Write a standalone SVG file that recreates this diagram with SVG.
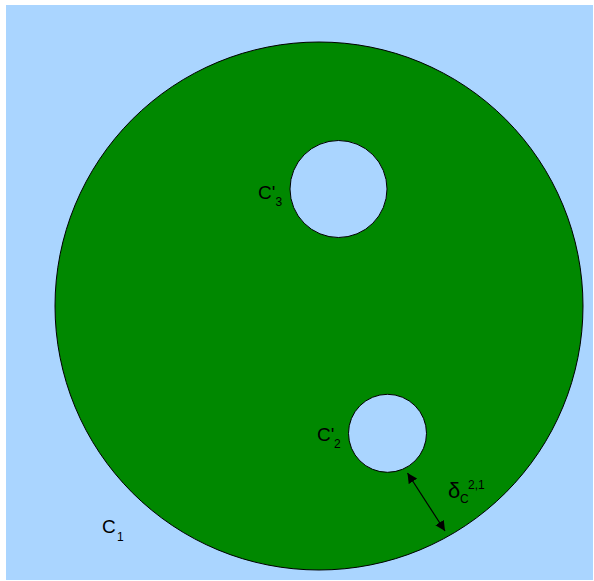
<svg xmlns="http://www.w3.org/2000/svg" width="594" height="581" viewBox="0 0 594 581">
<defs>
<style>
.bg{fill:#aad5ff;stroke:none}
.disk{fill:#008800;stroke:#000;stroke-width:1}
.hole{fill:#aad5ff;stroke:#000;stroke-width:1}
.lbl{font-family:"Liberation Sans",Arial,sans-serif;font-size:19px;fill:#000}
.sub{font-family:"Liberation Sans",Arial,sans-serif;font-size:12px;fill:#000}
.conn{stroke:#000;stroke-width:1.2;fill:none}
</style>
<marker id="ah" viewBox="0 0 10 10" refX="10" refY="5" markerWidth="10" markerHeight="10" markerUnits="userSpaceOnUse" orient="auto-start-reverse">
<path d="M0,0 L10,5 L0,10 z" fill="#000"/>
</marker>
</defs>
<rect class="bg" x="6" y="5" width="587" height="575"/>
<g id="C1">
<circle class="disk" cx="319" cy="306" r="264"/>
<text class="lbl" x="102" y="533">C</text>
<text class="sub" x="117" y="541">1</text>
</g>
<g id="C3">
<circle class="hole" cx="338.5" cy="189" r="48.5"/>
<text class="lbl" x="258" y="199">C'</text>
<text class="sub" x="275.5" y="206">3</text>
</g>
<g id="C2">
<circle class="hole" cx="387.5" cy="433.3" r="39"/>
<text class="lbl" x="317" y="441">C'</text>
<text class="sub" x="334" y="448">2</text>
</g>
<g id="connectors">
<line class="conn" x1="407.5" y1="473" x2="445" y2="531" marker-start="url(#ah)" marker-end="url(#ah)"/>
<text class="lbl" x="448" y="498" style="font-size:22px">δ</text>
<text class="sub" x="460" y="503">C</text>
<text class="sub" x="468" y="489">2,1</text>
</g>
</svg>
